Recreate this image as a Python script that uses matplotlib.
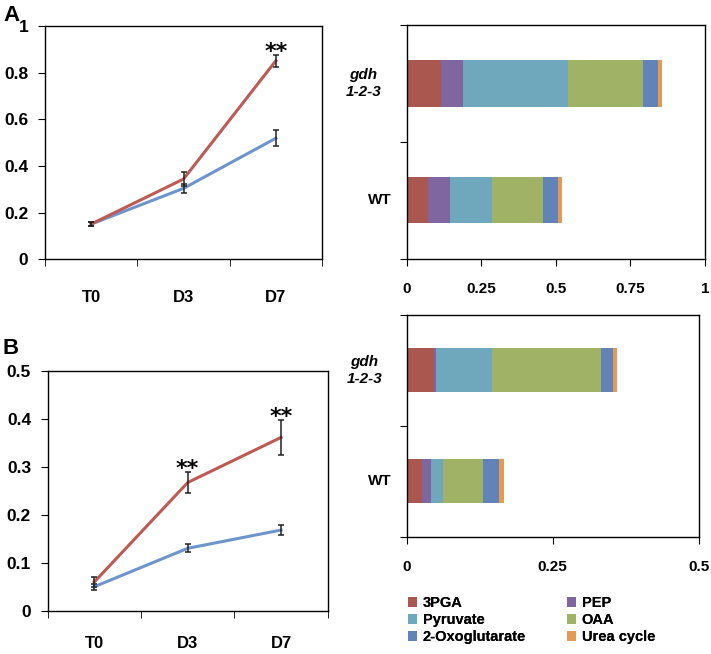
import matplotlib
matplotlib.use("Agg")
import matplotlib.pyplot as plt
from matplotlib.patches import Patch
import numpy as np

# line charts (A / B)
days = ["T0", "D3", "D7"]
a_gdh = [0.151, 0.344, 0.851]
a_gdh_err = [0.010, 0.030, 0.025]
a_wt = [0.151, 0.304, 0.519]
a_wt_err = [0.008, 0.020, 0.034]
a_stars = [None, None, "**"]

b_gdh = [0.060, 0.267, 0.361]
b_gdh_err = [0.011, 0.021, 0.036]
b_wt = [0.050, 0.130, 0.168]
b_wt_err = [0.006, 0.008, 0.010]
b_stars = [None, "**", "**"]

# stacked bars
metabolites = ["3PGA", "PEP", "Pyruvate", "OAA", "2-Oxoglutarate", "Urea cycle"]
a_bar_gdh = [0.114, 0.076, 0.352, 0.249, 0.050, 0.015]
a_bar_wt = [0.070, 0.074, 0.141, 0.172, 0.049, 0.014]
b_bar_gdh = [0.047, 0.004, 0.095, 0.187, 0.020, 0.007]
b_bar_wt = [0.026, 0.016, 0.020, 0.068, 0.028, 0.008]

met_colors = ["#AA5750", "#8066A0", "#6FA8BD", "#9FB266", "#6283B8", "#E39A52"]
red = "#BE5A55"
blue = "#6E95CB"

plt.rcParams["font.family"] = ["Liberation Sans", "DejaVu Sans"]
plt.rcParams["font.weight"] = "bold"

fig = plt.figure(figsize=(7.11, 6.54), dpi=100)
W, H = 711, 654


def box(x0, y0, x1, y1):
    return [x0 / W, 1 - y1 / H, (x1 - x0) / W, (y1 - y0) / H]


def line_panel(ax, gdh, gdh_err, wt, wt_err, stars, ymax, yticks, xpad):
    x = np.arange(len(days))
    ax.plot(x, wt, color=blue, lw=2.2, zorder=2)
    ax.plot(x, gdh, color=red, lw=2.2, zorder=3)
    ax.errorbar(x, wt, yerr=wt_err, fmt="none", ecolor="#222222",
                elinewidth=1.1, capsize=2.5, capthick=1.1, zorder=4)
    ax.errorbar(x, gdh, yerr=gdh_err, fmt="none", ecolor="#222222",
                elinewidth=1.1, capsize=2.5, capthick=1.1, zorder=4)
    for i, s in enumerate(stars):
        if s:
            ax.annotate(s, (x[i], gdh[i] + gdh_err[i]), xytext=(0, -5),
                        textcoords="offset points", ha="center", va="bottom",
                        fontsize=16, fontweight="bold", family="DejaVu Sans")
    ax.set_xlim(-0.5, len(days) - 0.5)
    ax.set_ylim(0, ymax)
    ax.set_xticks(x)
    ax.set_xticklabels(days, fontsize=12, fontweight="bold")
    ax.set_xticks(np.arange(-0.5, len(days)), minor=True)
    ax.tick_params(axis="x", which="major", length=0, pad=xpad)
    ax.tick_params(axis="x", which="minor", length=5, direction="out")
    ax.set_yticks(yticks)
    ax.set_yticklabels([f"{t:g}" for t in yticks], fontsize=12.5, fontweight="bold")
    ax.tick_params(axis="y", length=5, direction="out", pad=7)
    for sp in ax.spines.values():
        sp.set_linewidth(1.0)
        sp.set_color("black")


def bar_panel(ax, gdh, wt, xmax, xticks, xlabels):
    left = np.zeros(2)
    for i, m in enumerate(metabolites):
        vals = np.array([wt[i], gdh[i]])
        ax.barh([0, 1], vals, left=left, height=0.4, color=met_colors[i],
                edgecolor="none", zorder=2)
        left += vals
    ax.set_xlim(0, xmax)
    ax.set_ylim(-0.5, 1.5)
    ax.set_xticks(xticks)
    ax.set_xticklabels(xlabels, fontsize=11, fontweight="bold")
    ax.tick_params(axis="x", length=5, direction="out", pad=12)
    ax.set_yticks([-0.5, 0.5, 1.5])
    ax.set_yticklabels([])
    ax.tick_params(axis="y", length=5, direction="out")
    ax.text(-0.145, 1, "gdh\n1-2-3", transform=ax.get_yaxis_transform(),
            ha="center", va="center", style="italic", fontweight="bold",
            fontsize=11, linespacing=1.25)
    ax.text(-0.052, 0, "WT", transform=ax.get_yaxis_transform(),
            ha="right", va="center", fontweight="bold", fontsize=11)
    for sp in ax.spines.values():
        sp.set_linewidth(1.0)
        sp.set_color("black")


ax_a = fig.add_axes(box(45, 26, 322, 259.3))
line_panel(ax_a, a_gdh, a_gdh_err, a_wt, a_wt_err, a_stars, 1.0,
           [0, 0.2, 0.4, 0.6, 0.8, 1.0], 22)

ax_b = fig.add_axes(box(47.7, 370.7, 327.7, 610.7))
line_panel(ax_b, b_gdh, b_gdh_err, b_wt, b_wt_err, b_stars, 0.5,
           [0, 0.1, 0.2, 0.3, 0.4, 0.5], 18)

ax_ar = fig.add_axes(box(406.7, 25, 705, 258.5))
bar_panel(ax_ar, a_bar_gdh, a_bar_wt, 1.0, [0, 0.25, 0.5, 0.75, 1.0],
          ["0", "0.25", "0.5", "0.75", "1"])

ax_br = fig.add_axes(box(406.7, 314.7, 698.7, 536.7))
bar_panel(ax_br, b_bar_gdh, b_bar_wt, 0.5, [0, 0.25, 0.5],
          ["0", "0.25", "0.5"])

fig.text(3 / W, 1 - 5 / H, "A", ha="left", va="top", fontsize=16,
         fontweight="bold", family="Liberation Sans")
fig.text(3 / W, 1 - 338 / H, "B", ha="left", va="top", fontsize=16,
         fontweight="bold", family="Liberation Sans")

# legend in two columns: 3PGA / Pyruvate / 2-Oxoglutarate, then PEP / OAA / Urea cycle
leg_kw = dict(loc="upper left", frameon=False, fontsize=10.5,
              handlelength=0.65, handleheight=0.65, handletextpad=0.35,
              labelspacing=0.2, borderpad=0, borderaxespad=0)
for col, x0 in ((0, 408), (1, 567)):
    handles = [Patch(facecolor=met_colors[i], edgecolor="none",
                     label=metabolites[i]) for i in range(col, 6, 2)]
    leg = fig.legend(handles=handles, bbox_to_anchor=(x0 / W, 1 - 596 / H),
                     **leg_kw)
    fig.add_artist(leg)

fig.savefig("out.png", dpi=100)
